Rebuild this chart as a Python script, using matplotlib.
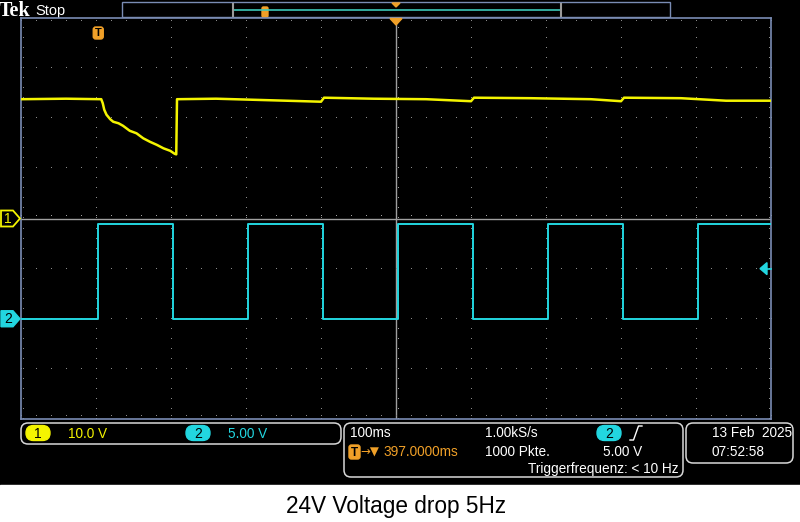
import numpy as np
import matplotlib
matplotlib.use("Agg")
import matplotlib.pyplot as plt
from matplotlib.patches import FancyBboxPatch, Polygon, Rectangle

# ---------------- data ----------------
# time axis: 100 ms/div, 10 div shown (0 .. 1000 ms from left edge)
time_per_div_ms = 100
ch1_volts_per_div = 10.0
ch2_volts_per_div = 5.0
ch1_position_div = 0.0
ch2_position_div = -2.0

# Channel 1 (24 V supply) breakpoints: time [ms], voltage [V]
ch1_t_ms = [0, 60, 107, 109, 111, 114, 119, 123, 130, 136, 145, 154, 163, 172,
            181, 190, 199, 205, 207, 208, 260, 330, 400, 404, 470, 540, 600,
            604, 680, 760, 800, 804, 880, 940, 1000]
ch1_volts = [23.8, 23.9, 23.8, 23.0, 21.7, 20.7, 19.8, 19.3, 19.0, 18.5, 17.5,
             17.0, 16.0, 15.3, 14.7, 14.0, 13.5, 12.9, 12.8, 23.8, 23.9, 23.6,
             23.3, 24.1, 23.9, 23.8, 23.4, 24.1, 24.0, 23.8, 23.4, 24.1, 24.0,
             23.5, 23.5]

# Channel 2 (5 Hz control square wave): edge times [ms], levels [V]
ch2_edges_ms = [103, 203, 303, 403, 503, 603, 703, 803, 903]
ch2_low_v = 0.0
ch2_high_v = 9.45

trigger_time_ms = 103
trigger_level_v = 5.0

# status text
ch1_scale_txt = "10.0 V"
ch2_scale_txt = "5.00 V"
timebase_txt = "100ms"
delay_arrow_txt = "\u2192\u25BC"
delay_txt = "397.0000ms"
rate_txt = "1.00kS/s"
points_txt = "1000 Pkte."
trig_level_txt = "5.00 V"
trig_freq_txt = "Triggerfrequenz: < 10 Hz"
date_txt = "13 Feb  2025"
time_txt = "07:52:58"
caption = "24V Voltage drop 5Hz"

# ---------------- figure ----------------
W, H = 800, 522
fig = plt.figure(figsize=(W / 100, H / 100), dpi=100, facecolor="black")

YEL = "#f4f400"
CYA = "#22d6e0"
ORA = "#f0a028"
GRID = "#8a8a8a"
BORDER = "#7a8cb4"
BOXC = "#d8d8d8"
SANS = ["Liberation Sans", "DejaVu Sans"]

# pixel overlay axes (below)
P = fig.add_axes([0, 0, 1, 1], zorder=0)
P.set_xlim(0, W)
P.set_ylim(H, 0)
P.axis("off")
P.set_facecolor("black")
P.add_patch(Rectangle((0, 0), W, 485, color="black", zorder=0))
P.add_patch(Rectangle((0, 485), W, H - 485, color="white", zorder=0))

# graticule area in pixels
GX0, GX1, GY0, GY1 = 21, 771, 18, 419
ax = fig.add_axes([GX0 / W, 1 - GY1 / H, (GX1 - GX0) / W, (GY1 - GY0) / H], zorder=2)
ax.set_facecolor("black")
ax.set_xlim(0, 10 * time_per_div_ms)
ax.set_ylim(-4, 4)
ax.set_xticks([])
ax.set_yticks([])
for s in ax.spines.values():
    s.set_color(BORDER)
    s.set_linewidth(1.2)

# dotted graticule
ys_fine = np.arange(-4, 4.001, 0.2)
xs_fine = np.arange(0, 1000.1, 20)
for d in range(1, 10):
    if d == 5:
        continue
    ax.plot(np.full_like(ys_fine, d * 100), ys_fine, ",", color=GRID)
for d in range(-3, 4):
    if d == 0:
        continue
    ax.plot(xs_fine, np.full_like(xs_fine, d), ",", color=GRID)
# edge ticks
ax.plot(xs_fine, np.full_like(xs_fine, 3.94), ",", color=GRID)
ax.plot(xs_fine, np.full_like(xs_fine, -3.94), ",", color=GRID)
ax.plot(np.full_like(ys_fine, 3), ys_fine, ",", color=GRID)
ax.plot(np.full_like(ys_fine, 997), ys_fine, ",", color=GRID)
# center crosshair
ax.axhline(0, color="#a0a0a0", lw=1.0, zorder=1)
ax.axvline(500, color="#a0a0a0", lw=1.0, zorder=1)
ax.plot(xs_fine, np.full_like(xs_fine, 0.045), ",", color="#a0a0a0", zorder=1)
ax.plot(np.full_like(ys_fine, 503), ys_fine, ",", color="#a0a0a0", zorder=1)

# traces
ch1_div = np.array(ch1_volts) / ch1_volts_per_div + ch1_position_div
ax.plot(ch1_t_ms, ch1_div, color=YEL, lw=1.8, zorder=4)

edges = np.array(ch2_edges_ms, dtype=float)
t2 = np.concatenate([[0], np.repeat(edges, 2), [1000]])
lv = []
level = ch2_low_v
for i in range(len(edges) + 1):
    lv += [level, level]
    level = ch2_high_v if level == ch2_low_v else ch2_low_v
ch2_div = np.array(lv) / ch2_volts_per_div + ch2_position_div
ax.plot(t2, ch2_div, color=CYA, lw=1.4, zorder=3)

# pixel mapping helpers
def px_x(t):
    return GX0 + (t / 1000.0) * (GX1 - GX0)

def px_y(div):
    return (GY0 + GY1) / 2 - div * (GY1 - GY0) / 8

# top overlay
P2 = fig.add_axes([0, 0, 1, 1], zorder=3)
P2.set_xlim(0, W)
P2.set_ylim(H, 0)
P2.axis("off")
P2.patch.set_alpha(0)

# trigger level arrow (right)
ty = px_y(trigger_level_v / ch2_volts_per_div + ch2_position_div)
P2.add_patch(Polygon([[760, ty], [767, ty - 6], [767, ty + 6]], closed=True, color=CYA))
P2.plot([767, 771], [ty, ty], color=CYA, lw=1.2)

# trigger T marker
txp = px_x(trigger_time_ms)
P2.add_patch(FancyBboxPatch((txp - 5, 27), 10, 12, boxstyle="round,pad=0,rounding_size=2.5",
                            fc=ORA, ec=ORA))
P2.text(txp, 33.5, "T", color="black", fontsize=8, fontweight="bold", ha="center",
        va="center", family=SANS)
# expansion point triangle
P2.add_patch(Polygon([[390, 18.5], [402, 18.5], [396, 25]], closed=True, color=ORA))

# channel markers on the left
def ch_marker(yc, num, filled, color):
    pts = [[1, yc - 8], [13, yc - 8], [20, yc], [13, yc + 8], [1, yc + 8]]
    if filled:
        P2.add_patch(Polygon(pts, closed=True, fc=color, ec=color, lw=1.0))
        P2.text(8, yc + 0.5, num, color="black", fontsize=10, ha="center", va="center",
                family=SANS)
    else:
        P2.add_patch(Polygon(pts, closed=True, fc="black", ec=color, lw=1.3))
        P2.text(8, yc + 0.5, num, color=color, fontsize=10, ha="center", va="center",
                family=SANS)

ch_marker(px_y(ch1_position_div), "1", False, YEL)
ch_marker(px_y(ch2_position_div), "2", True, CYA)

# top header
P.text(-1, 10.5, "Tek", color="white", fontsize=14.5, fontweight="bold",
       family=["Liberation Serif", "DejaVu Serif"], va="center", ha="left")
P.text(35, 10.5, "Stop", color="white", fontsize=10.5, family=SANS, va="center", ha="left")
P.add_patch(Rectangle((122, 2), 548, 15, fc="black", ec=BORDER, lw=1.0))
P.plot([233, 561], [9.5, 9.5], color="#3cc8b8", lw=1.2)
P.plot([233, 233], [4, 16], color="#9a9a9a", lw=1.5)
P.plot([561, 561], [4, 16], color="#9a9a9a", lw=1.5)
P.add_patch(FancyBboxPatch((262, 7), 6, 10, boxstyle="round,pad=0,rounding_size=1.5",
                           fc=ORA, ec=ORA))
P.add_patch(Polygon([[392, 3], [400, 3], [396, 7]], closed=True, color=ORA))

# bottom status boxes
def rbox(x0, y0, x1, y1):
    P.add_patch(FancyBboxPatch((x0, y0), x1 - x0, y1 - y0,
                               boxstyle="round,pad=0,rounding_size=7",
                               fc="black", ec=BOXC, lw=1.1))

rbox(21, 423, 341, 444)
rbox(344, 423, 683, 477)
rbox(686, 423, 793, 463)

def badge(xc, yc, num, color):
    P.add_patch(FancyBboxPatch((xc - 12, yc - 7.5), 24, 15,
                               boxstyle="round,pad=0,rounding_size=7.5", fc=color, ec=color))
    P.text(xc, yc + 0.5, num, color="black", fontsize=10, ha="center", va="center",
           family=SANS)

FS = 9.8
badge(38, 433, "1", YEL)
P.text(68, 433.5, ch1_scale_txt, color=YEL, fontsize=FS, family=SANS, va="center")
badge(198, 433, "2", CYA)
P.text(228, 433.5, ch2_scale_txt, color=CYA, fontsize=FS, family=SANS, va="center")

P.text(350, 433, timebase_txt, color="white", fontsize=FS, family=SANS, va="center")
P.add_patch(FancyBboxPatch((349, 445), 11, 14, boxstyle="round,pad=0,rounding_size=2.5",
                           fc=ORA, ec=ORA))
P.text(354.5, 452.5, "T", color="black", fontsize=8.5, fontweight="bold", ha="center",
       va="center", family=SANS)
P.text(360, 452, delay_arrow_txt, color=ORA, fontsize=8.5, family=["DejaVu Sans"],
       va="center")
P.text(384, 452.5, delay_txt, color=ORA, fontsize=FS, family=SANS, va="center")
P.text(485, 433, rate_txt, color="white", fontsize=FS, family=SANS, va="center")
P.text(485, 452.5, points_txt, color="white", fontsize=FS, family=SANS, va="center")
badge(609, 433, "2", CYA)
P.plot([630, 633.5, 638.5, 642], [440, 440, 426, 426], color="white", lw=1.0)
P.text(603, 452.5, trig_level_txt, color="white", fontsize=FS, family=SANS, va="center")
P.text(679, 468.5, trig_freq_txt, color="white", fontsize=FS, family=SANS, va="center",
       ha="right")

P.text(712, 433, date_txt, color="white", fontsize=FS, family=SANS, va="center")
P.text(711, 452.5, time_txt, color="white", fontsize=FS, family=SANS, va="center")

# caption
P.text(396, 513, caption, color="black", fontsize=16.3, family=SANS, ha="center",
       va="baseline")

fig.savefig("out.png", dpi=100, facecolor="black")
